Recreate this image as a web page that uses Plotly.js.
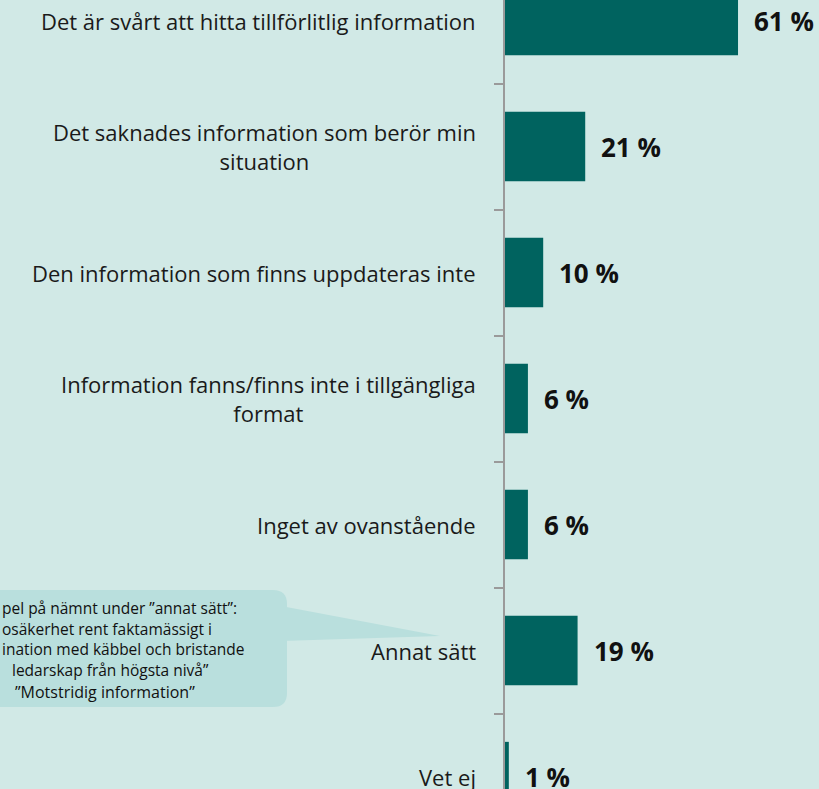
<!DOCTYPE html>
<html>
<head>
<meta charset="utf-8">
<script src="https://cdn.plot.ly/plotly-3.0.1.min.js"></script>
<style>
html,body{margin:0;padding:0;background:#d1e9e6;}
#chart{width:819px;height:789px;}
</style>
</head>
<body>
<div id="chart"></div>
<script>
const categories = [
  "Det är svårt att hitta tillförlitlig information",
  "Det saknades information som berör min<br>situation",
  "Den information som finns uppdateras inte",
  "Information fanns/finns inte i tillgängliga<br>format",
  "Inget av ovanstående",
  "Annat sätt",
  "Vet ej"
];
const values = [61, 21, 10, 6, 6, 19, 1];
const valueLabels = ["61 %", "21 %", "10 %", "6 %", "6 %", "19 %", "1 %"];
const calloutLines = [
  "pel på nämnt under ”annat sätt”:",
  "osäkerhet rent faktamässigt i",
  "ination med käbbel och bristande",
  "ledarskap från högsta nivå”"
];
const calloutLast = "”Motstridig information”";

const W = 819, H = 789, L = 505;
const px = x => (x - L) / (W - L);
const py = y => 1 - y / H;
const FONT = '"Open Sans", "Noto Sans", sans-serif';

const idx = categories.map((c, i) => i);

const trace = {
  type: 'bar',
  orientation: 'h',
  x: values,
  y: idx,
  width: 0.55,
  marker: {color: '#00635f', line: {width: 0}},
  hoverinfo: 'none'
};

const annotations = [];
categories.forEach((c, i) => {
  annotations.push({
    xref: 'paper', yref: 'y', x: 0, y: i,
    xanchor: 'right', yanchor: 'middle', xshift: -27,
    text: c, showarrow: false, align: 'center',
    font: {family: FONT, size: 22, color: '#1a1a1a'}
  });
  annotations.push({
    xref: 'x', yref: 'y', x: values[i], y: i,
    xanchor: 'left', yanchor: 'middle', xshift: 14,
    text: '<b>' + valueLabels[i] + '</b>', showarrow: false,
    font: {family: FONT, size: 26, color: '#111'}
  });
});

calloutLines.forEach((t, k) => {
  annotations.push({
    xref: 'paper', yref: 'paper', x: px(k === 3 ? 10 : 0), y: py(608 + k * 20.5),
    xanchor: 'left', yanchor: 'middle', text: t, showarrow: false, align: 'left',
    font: {family: FONT, size: 15.5, color: '#111'}
  });
});
annotations.push({
  xref: 'paper', yref: 'paper', x: px(105), y: py(692),
  xanchor: 'center', yanchor: 'middle', text: calloutLast, showarrow: false,
  font: {family: FONT, size: 16, color: '#111'}
});

const r = 14;
const bx0 = -20, bx1 = 287, by0 = 590, by1 = 707;
const boxPath = [
  `M${px(bx0)},${py(by0)}`,
  `L${px(bx1 - r)},${py(by0)}`,
  `Q${px(bx1)},${py(by0)} ${px(bx1)},${py(by0 + r)}`,
  `L${px(bx1)},${py(by1 - r)}`,
  `Q${px(bx1)},${py(by1)} ${px(bx1 - r)},${py(by1)}`,
  `L${px(bx0)},${py(by1)}`, 'Z'
].join(' ');
const pointerPath = `M${px(281)},${py(606)} L${px(440)},${py(636)} L${px(281)},${py(641)} Z`;

const layout = {
  width: W, height: H,
  margin: {l: L, r: 0, t: 0, b: 0, pad: 0},
  paper_bgcolor: '#d1e9e6',
  plot_bgcolor: '#d1e9e6',
  showlegend: false,
  xaxis: {
    range: [0, (W - L) / 3.82],
    showgrid: false, zeroline: false, showline: false,
    showticklabels: false, ticks: '', fixedrange: true
  },
  yaxis: {
    type: 'linear',
    range: [(H - 20.5) / 126, -20.5 / 126],
    showgrid: false, zeroline: false,
    showline: true, linecolor: '#9a9a9a', linewidth: 2,
    showticklabels: false,
    ticks: 'outside', ticklen: 9, tickwidth: 2, tickcolor: '#9a9a9a',
    tickmode: 'array', tickvals: [0.5, 1.5, 2.5, 3.5, 4.5, 5.5],
    fixedrange: true
  },
  shapes: [
    {type: 'path', xref: 'paper', yref: 'paper', path: pointerPath,
     fillcolor: '#b9dfdd', line: {width: 0}, layer: 'below'},
    {type: 'path', xref: 'paper', yref: 'paper', path: boxPath,
     fillcolor: '#b9dfdd', line: {width: 0}, layer: 'below'}
  ],
  annotations: annotations
};

Plotly.newPlot('chart', [trace], layout, {displayModeBar: false, staticPlot: true});
</script>
</body>
</html>
